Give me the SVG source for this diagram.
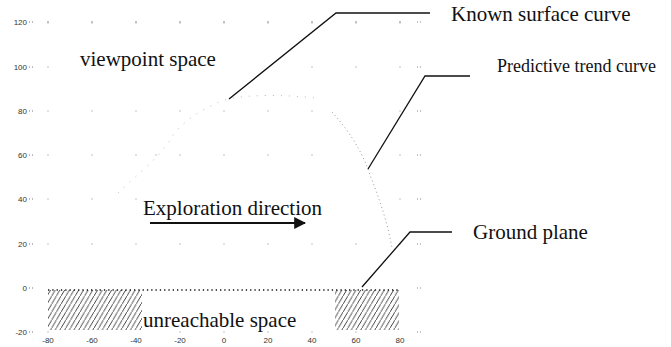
<svg xmlns="http://www.w3.org/2000/svg" width="671" height="347" viewBox="0 0 671 347">
<defs>
<style>
.lbl{font-family:"Liberation Serif","Times New Roman",serif;fill:#111}
.ax{font-family:"Liberation Sans",Arial,sans-serif;font-size:8px;fill:#333}
.lead{fill:none;stroke:#111;stroke-width:1.3}
.gd{fill:#888}
.curve{fill:none;stroke:#999;stroke-width:1;stroke-dasharray:1 3}
.faint{fill:none;stroke:#bbb;stroke-width:1;stroke-dasharray:1 7}
.tick{stroke:#777;stroke-width:1;stroke-dasharray:1 2}
</style>
<pattern id="hatch" patternUnits="userSpaceOnUse" width="4.7" height="8">
<line x1="-0.5" y1="8.8" x2="5.2" y2="-0.8" stroke="#222" stroke-width="0.85"/>
</pattern>
<marker id="arr" viewBox="0 0 10 10" refX="9" refY="5" markerWidth="6" markerHeight="6" markerUnits="strokeWidth" orient="auto">
<path d="M0,0 L10,5 L0,10 z" fill="#111"/>
</marker>
</defs>
<rect width="671" height="347" fill="#fff"/>

<g id="axes">
<g class="ax" text-anchor="end">
<text x="27" y="25">120</text>
<text x="27" y="70">100</text>
<text x="27" y="114">80</text>
<text x="27" y="158">60</text>
<text x="27" y="202">40</text>
<text x="27" y="247">20</text>
<text x="27" y="291">0</text>
<text x="27" y="335">-20</text>
</g>
<g class="tick">
<line x1="29" y1="22" x2="35" y2="22"/>
<line x1="29" y1="67" x2="35" y2="67"/>
<line x1="29" y1="111" x2="35" y2="111"/>
<line x1="29" y1="155" x2="35" y2="155"/>
<line x1="29" y1="199" x2="35" y2="199"/>
<line x1="29" y1="244" x2="35" y2="244"/>
<line x1="29" y1="288" x2="35" y2="288"/>
<line x1="29" y1="332" x2="35" y2="332"/>
</g>
<g class="ax" text-anchor="middle">
<text x="48" y="343">-80</text>
<text x="92" y="343">-60</text>
<text x="136" y="343">-40</text>
<text x="180" y="343">-20</text>
<text x="224" y="343">0</text>
<text x="268" y="343">20</text>
<text x="312" y="343">40</text>
<text x="356" y="343">60</text>
<text x="400" y="343">80</text>
</g>
</g>

<g id="grid" class="gd">
<rect x="47.5" y="21" width="1" height="2.5"/><rect x="91.5" y="21" width="1" height="2.5"/><rect x="135.5" y="21" width="1" height="2.5"/><rect x="179.5" y="21" width="1" height="2.5"/><rect x="223.5" y="21" width="1" height="2.5"/><rect x="267.5" y="21" width="1" height="2.5"/><rect x="311.5" y="21" width="1" height="2.5"/><rect x="355.5" y="21" width="1" height="2.5"/><rect x="399.5" y="21" width="1" height="2.5"/><rect x="417" y="21.5" width="1" height="1"/><rect x="420" y="21.5" width="1" height="1"/>
<rect x="47.5" y="66.5" width="1" height="1"/><rect x="311.5" y="66.5" width="1" height="1"/><rect x="355.5" y="66.5" width="1" height="1"/><rect x="399.5" y="66.5" width="1" height="1"/><rect x="417" y="66.5" width="1" height="1"/><rect x="420" y="66.5" width="1" height="1"/>
<rect x="47.5" y="110.5" width="1" height="1"/><rect x="91.5" y="110.5" width="1" height="1"/><rect x="135.5" y="110.5" width="1" height="1"/><rect x="179.5" y="110.5" width="1" height="1"/><rect x="223.5" y="110.5" width="1" height="1"/><rect x="267.5" y="110.5" width="1" height="1"/><rect x="311.5" y="110.5" width="1" height="1"/><rect x="399.5" y="110.5" width="1" height="1"/><rect x="417" y="110.5" width="1" height="1"/><rect x="420" y="110.5" width="1" height="1"/>
<rect x="47.5" y="154.5" width="1" height="1"/><rect x="91.5" y="154.5" width="1" height="1"/><rect x="135.5" y="154.5" width="1" height="1"/><rect x="155.5" y="154.5" width="1" height="1"/><rect x="179.5" y="154.5" width="1" height="1"/><rect x="223.5" y="154.5" width="1" height="1"/><rect x="267.5" y="154.5" width="1" height="1"/><rect x="311.5" y="154.5" width="1" height="1"/><rect x="399.5" y="154.5" width="1" height="1"/><rect x="417" y="154.5" width="1" height="1"/><rect x="420" y="154.5" width="1" height="1"/>
<rect x="47.5" y="198.5" width="1" height="1"/><rect x="91.5" y="198.5" width="1" height="1"/><rect x="135.5" y="198.5" width="1" height="1"/><rect x="399.5" y="198.5" width="1" height="1"/><rect x="417" y="198.5" width="1" height="1"/><rect x="420" y="198.5" width="1" height="1"/>
<rect x="47.5" y="243.5" width="1" height="1"/><rect x="91.5" y="243.5" width="1" height="1"/><rect x="135.5" y="243.5" width="1" height="1"/><rect x="179.5" y="243.5" width="1" height="1"/><rect x="223.5" y="243.5" width="1" height="1"/><rect x="267.5" y="243.5" width="1" height="1"/><rect x="311.5" y="243.5" width="1" height="1"/><rect x="355.5" y="243.5" width="1" height="1"/><rect x="399.5" y="243.5" width="1" height="1"/><rect x="417" y="243.5" width="1" height="1"/><rect x="420" y="243.5" width="1" height="1"/>
<rect x="417" y="287.5" width="1" height="1"/><rect x="420" y="287.5" width="1" height="1"/>
<rect x="47.5" y="331.5" width="1" height="1"/><rect x="179.5" y="331.5" width="1" height="1"/><rect x="223.5" y="331.5" width="1" height="1"/><rect x="267.5" y="331.5" width="1" height="1"/><rect x="311.5" y="331.5" width="1" height="1"/><rect x="355.5" y="331.5" width="1" height="1"/><rect x="417" y="331.5" width="1" height="1"/><rect x="420" y="331.5" width="1" height="1"/>
</g>

<g id="known-surface-curve-shape">
<path class="faint" d="M118,193 C135,176 160,158 172,137 C178,126 200,108 228,99 C250,94 290,95 315,98"/>
</g>
<g id="predictive-trend-curve-shape">
<path class="curve" d="M332,112 C348,130 362,150 370,175 C380,200 388,225 392,248"/>
</g>

<g id="ground-plane">
<line x1="48" y1="290" x2="400" y2="290" stroke="#111" stroke-width="1.3" stroke-dasharray="1.3 3"/>
</g>

<g id="unreachable-left">
<rect x="48" y="290" width="94" height="40" fill="url(#hatch)"/>
</g>
<g id="unreachable-right">
<rect x="335" y="290" width="64" height="40" fill="url(#hatch)"/>
</g>

<g id="connectors">
<polyline class="lead" points="229,99 336,13 430,13"/>
<polyline class="lead" points="368,169 425,76 470,76"/>
<polyline class="lead" points="362,287 410,232 452,232"/>
<line x1="150" y1="223" x2="305" y2="223" stroke="#111" stroke-width="2" marker-end="url(#arr)"/>
</g>

<g id="label-viewpoint">
<text class="lbl" x="80" y="66" font-size="21">viewpoint space</text>
</g>
<g id="label-exploration">
<text class="lbl" x="143" y="215" font-size="21">Exploration direction</text>
</g>
<g id="label-unreachable">
<text class="lbl" x="143" y="327" font-size="21">unreachable space</text>
</g>
<g id="label-known">
<text class="lbl" x="451" y="21" font-size="21">Known surface curve</text>
</g>
<g id="label-predictive">
<text class="lbl" x="497" y="72" font-size="18">Predictive trend curve</text>
</g>
<g id="label-ground">
<text class="lbl" x="473" y="239" font-size="21">Ground plane</text>
</g>
</svg>
